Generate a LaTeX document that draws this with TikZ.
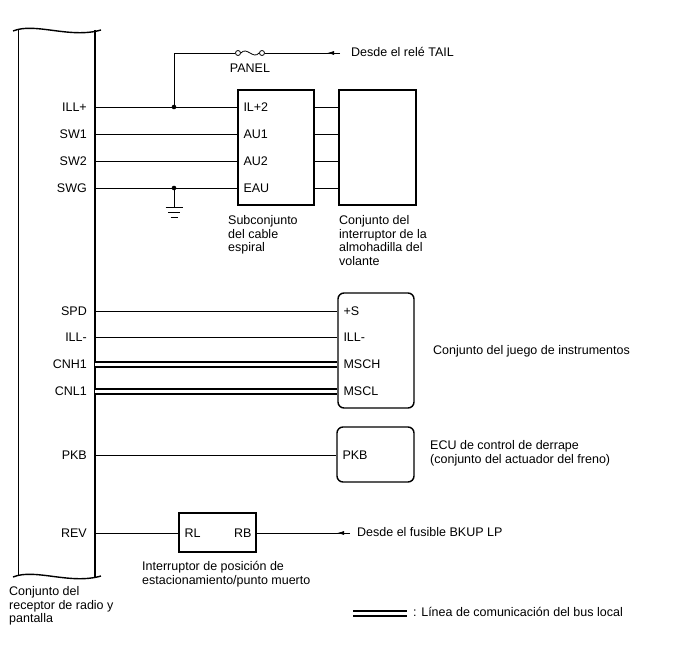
\documentclass[tikz,border=0pt]{standalone}
\usepackage{fontspec}
\setmainfont{Liberation Sans}
\usetikzlibrary{positioning, arrows.meta}

\begin{document}
\begin{tikzpicture}[x=1pt, y=-1pt, font=\fontsize{12.5}{13.8}\selectfont,
    wire/.style={line width=0.8pt},
    bus/.style={double, double distance=3pt, line width=2pt},
    box/.style={draw, line width=1.4pt, minimum width=76pt, minimum height=115pt, inner sep=0pt},
    rbox/.style={box, rounded corners=6pt},
    lbl/.style={anchor=east, inner xsep=8pt, inner ysep=0pt, text height=9pt, text depth=0pt},
    pin/.style={anchor=west, inner xsep=6pt, inner ysep=0pt, text height=9pt, text depth=0pt},
    txt/.style={anchor=north west, align=left, inner sep=0pt},
    feed/.style={-{Latex[length=7pt, width=4pt]}, line width=0.8pt}]
    \useasboundingbox (0,0) rectangle (688,658);

    \draw[line width=1.4pt] (13,31) .. controls (35,22) and (70,39) .. (101,30);
    \draw[line width=1.4pt] (13,577) .. controls (35,568) and (70,585) .. (101,576);
    \draw[line width=1.6pt] (18.5,29) -- (18.5,576);
    \draw[line width=1.6pt] (95,30) -- (95,577);
    \node[txt] (radio) at (9,586) {Conjunto del\\receptor de radio y\\pantalla};

    \node[box] (cabBox) at (276,147.5) {};
    \node[box, minimum width=77pt] (padBox) at (377.5,147.5) {};
    \node[txt] (cabText) at (228,215) {Subconjunto\\del cable\\espiral};
    \node[txt] (padText) at (339,215) {Conjunto del\\interruptor de la\\almohadilla del\\volante};

    \node[lbl] (illPlus) at (95,107) {ILL+};
    \node[lbl] (swOne) at (95,134) {SW1};
    \node[lbl] (swTwo) at (95,161) {SW2};
    \node[lbl] (swg) at (95,188) {SWG};
    \node[pin] (ilTwo) at (cabBox.west |- illPlus.east) {IL+2};
    \node[pin] (auOne) at (cabBox.west |- swOne.east) {AU1};
    \node[pin] (auTwo) at (cabBox.west |- swTwo.east) {AU2};
    \node[pin] (eau) at (cabBox.west |- swg.east) {EAU};
    \foreach \a/\b in {illPlus/ilTwo, swOne/auOne, swTwo/auTwo, swg/eau} {
        \draw[wire] (\a.east) -- (\b.west);
        \draw[wire] (cabBox.east |- \b.west) -- (padBox.west |- \b.west);
    }

    \coordinate (illDot) at (174,107);
    \fill (illDot) circle (2.3);
    \node[circle, draw, line width=0.8pt, inner sep=0pt, minimum size=5pt] (fuseL) at (238,53) {};
    \node[circle, draw, line width=0.8pt, inner sep=0pt, minimum size=5pt] (fuseR) at (262,53) {};
    \draw[wire] (illDot) |- (fuseL.west);
    \draw[wire] (fuseL.east) .. controls (247,46) and (253,60) .. (fuseR.west);
    \node (panel) at (250,68) {PANEL};
    \coordinate (tailEnd) at (340,53);
    \draw[wire] (fuseR.east) -- (tailEnd);
    \draw[feed] (tailEnd) -- ++(-13,0);
    \node[anchor=west, inner sep=0pt] (tail) at (351,52) {Desde el relé TAIL};

    \coordinate (swgDot) at (174,188);
    \fill (swgDot) circle (2.3);
    \coordinate (gnd) at (174,207);
    \draw[wire] (swgDot) -- (gnd);
    \draw[wire] ([xshift=-8.5pt]gnd) -- ([xshift=8.5pt]gnd);
    \draw[wire] ([xshift=-6pt,yshift=-5pt]gnd) -- ([xshift=6pt,yshift=-5pt]gnd);
    \draw[wire] ([xshift=-3.5pt,yshift=-10pt]gnd) -- ([xshift=3.5pt,yshift=-10pt]gnd);

    \node[rbox] (meterBox) at (376,350.5) {};
    \node[txt, anchor=west] (meterText) at (433,351) {Conjunto del juego de instrumentos};
    \node[lbl] (spd) at (95,311) {SPD};
    \node[lbl] (illMinus) at (95,337) {ILL-};
    \node[lbl] (cnhOne) at (95,364) {CNH1};
    \node[lbl] (cnlOne) at (95,391) {CNL1};
    \node[pin] (plusS) at (meterBox.west |- spd.east) {+S};
    \node[pin] (meterIll) at (meterBox.west |- illMinus.east) {ILL-};
    \node[pin] (msch) at (meterBox.west |- cnhOne.east) {MSCH};
    \node[pin] (mscl) at (meterBox.west |- cnlOne.east) {MSCL};
    \draw[wire] (spd.east) -- (plusS.west);
    \draw[wire] (illMinus.east) -- (meterIll.west);
    \draw[bus] (cnhOne.east) -- (msch.west);
    \draw[bus] (cnlOne.east) -- (mscl.west);

    \node[rbox, minimum width=77pt, minimum height=55pt] (ecuBox) at (375.5,454.5) {};
    \node[lbl] (pkb) at (95,455) {PKB};
    \node[pin] (ecuPkb) at (ecuBox.west |- pkb.east) {PKB};
    \draw[wire] (pkb.east) -- (ecuPkb.west);
    \node[txt] (ecuText) at (430,440) {ECU de control de derrape\\(conjunto del actuador del freno)};

    \node[box, minimum width=77pt, minimum height=39pt] (swBox) at (217.5,532.5) {};
    \node[lbl] (rev) at (95,533) {REV};
    \node[pin] (rl) at (swBox.west |- rev.east) {RL};
    \node[lbl, inner xsep=5pt] (rb) at (swBox.east |- rev.east) {RB};
    \draw[wire] (rev.east) -- (rl.west);
    \coordinate (bkupEnd) at (350,533);
    \draw[wire] (rb.east) -- (bkupEnd);
    \draw[feed] (bkupEnd) -- ++(-13,0);
    \node[anchor=west, inner sep=0pt] (bkup) at (357,532) {Desde el fusible BKUP LP};
    \node[txt] (swText) at (142,561) {Interruptor de posición de\\estacionamiento/punto muerto};

    \coordinate (legA) at (353,613);
    \coordinate (legB) at (407,613);
    \draw[bus] (legA) -- (legB);
    \node[anchor=west, inner sep=0pt] (legend) at (413,612) {: Línea de comunicación del bus local};
\end{tikzpicture}
\end{document}
